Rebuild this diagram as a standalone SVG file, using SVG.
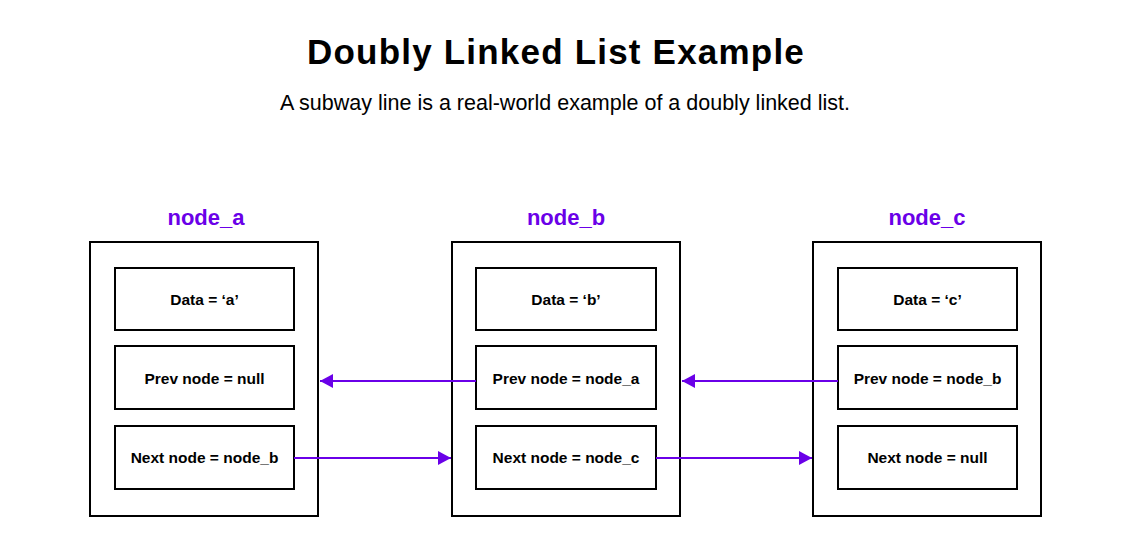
<svg xmlns="http://www.w3.org/2000/svg" width="1129" height="555" viewBox="0 0 1129 555">
<style>
.title{font-family:"Liberation Sans",Arial,sans-serif;font-weight:bold;font-size:35px;letter-spacing:1.2px;fill:#000;text-anchor:middle}
.sub{font-family:"Liberation Sans",Arial,sans-serif;font-size:21.5px;fill:#000;text-anchor:middle}
.nl{font-family:"Liberation Sans",Arial,sans-serif;font-weight:bold;font-size:22px;fill:#6a00e8;text-anchor:middle}
.t{font-family:"Liberation Sans",Arial,sans-serif;font-weight:bold;font-size:15.5px;fill:#000;text-anchor:middle}
.box{fill:#fff;stroke:#000;stroke-width:2}
.ln{stroke:#6a00e8;stroke-width:2;fill:none}
</style>
<defs>
<marker id="ah" markerWidth="14" markerHeight="14" refX="13" refY="7" orient="auto" markerUnits="userSpaceOnUse">
<path d="M0,0 L13,7 L0,14 Z" fill="#6a00e8"/>
</marker>
</defs>
<rect width="1129" height="555" fill="#fff"/>
<text class="title" x="556" y="64">Doubly Linked List Example</text>
<text class="sub" x="565" y="110">A subway line is a real-world example of a doubly linked list.</text>

<g id="node_a">
<text class="nl" x="206" y="225">node_a</text>
<rect class="box" x="90" y="242" width="228" height="274"/>
<rect class="box" x="115" y="268" width="179" height="62"/>
<text class="t" x="204.5" y="305">Data = ‘a’</text>
<rect class="box" x="115" y="346" width="179" height="63"/>
<text class="t" x="204.5" y="384">Prev node = null</text>
<rect class="box" x="115" y="426" width="179" height="63"/>
<text class="t" x="204.5" y="463">Next node = node_b</text>
</g>

<g id="node_b">
<text class="nl" x="566" y="225">node_b</text>
<rect class="box" x="452" y="242" width="228" height="274"/>
<rect class="box" x="476" y="268" width="180" height="62"/>
<text class="t" x="566" y="305">Data = ‘b’</text>
<rect class="box" x="476" y="346" width="180" height="63"/>
<text class="t" x="566" y="384">Prev node = node_a</text>
<rect class="box" x="476" y="426" width="180" height="63"/>
<text class="t" x="566" y="463">Next node = node_c</text>
</g>

<g id="node_c">
<text class="nl" x="927" y="225">node_c</text>
<rect class="box" x="813" y="242" width="228" height="274"/>
<rect class="box" x="838" y="268" width="179" height="62"/>
<text class="t" x="927.5" y="305">Data = ‘c’</text>
<rect class="box" x="838" y="346" width="179" height="63"/>
<text class="t" x="927.5" y="384">Prev node = node_b</text>
<rect class="box" x="838" y="426" width="179" height="63"/>
<text class="t" x="927.5" y="463">Next node = null</text>
</g>

<g id="connectors">
<line class="ln" x1="476" y1="381" x2="320" y2="381" marker-end="url(#ah)"/>
<line class="ln" x1="294" y1="458" x2="451" y2="458" marker-end="url(#ah)"/>
<line class="ln" x1="838" y1="381" x2="682" y2="381" marker-end="url(#ah)"/>
<line class="ln" x1="656" y1="458" x2="812" y2="458" marker-end="url(#ah)"/>
</g>
</svg>
